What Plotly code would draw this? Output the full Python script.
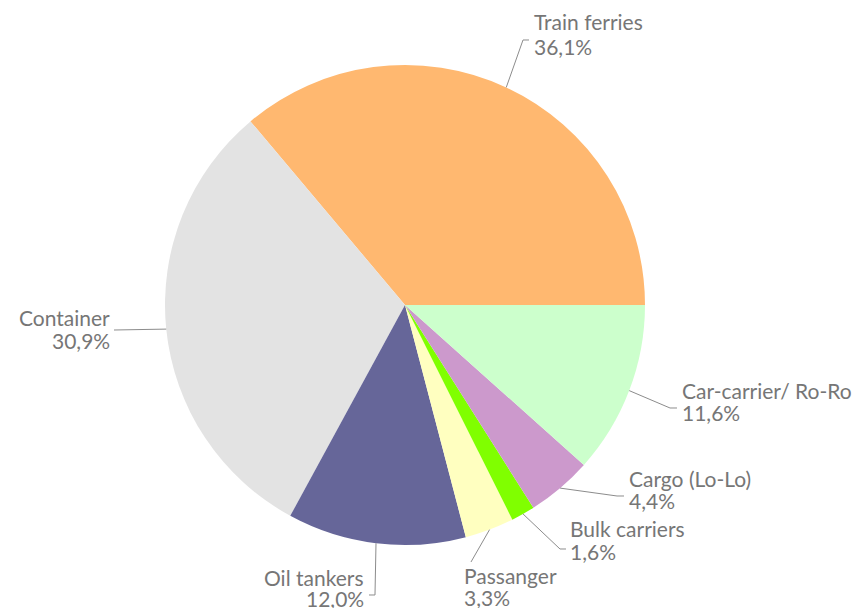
import math
import plotly.graph_objects as go

W, H = 862, 608

categories = ["Train ferries", "Container", "Oil tankers", "Passanger",
              "Bulk carriers", "Cargo (Lo-Lo)", "Car-carrier/ Ro-Ro"]
values = [36.1, 30.9, 12.0, 3.3, 1.6, 4.4, 11.6]
colors = ["#FFB870", "#E3E3E3", "#666699", "#FFFFC0", "#80FF00", "#CC99CC", "#CCFFCC"]

# layout of pie (pixels in the final screenshot)
CX, CY, R = 405, 305, 240
OFF = 8  # page body margin

# label layout: (text x, line1 y, line2 y, anchor, leader elbow points in px)
label_layout = {
    "Train ferries":      dict(x=533, y1=22,  y2=46,  anchor="left",  path=[(523, 40), (529, 40)]),
    "Container":          dict(x=111, y1=318, y2=340, anchor="right", path=[(114, 330)]),
    "Oil tankers":        dict(x=365, y1=577, y2=598, anchor="right", path=[(375, 595), (369, 595)]),
    "Passanger":          dict(x=463, y1=575, y2=597, anchor="left",  path=[(471, 562)]),
    "Bulk carriers":      dict(x=569, y1=528, y2=551, anchor="left",  path=[(560, 549), (566, 549)]),
    "Cargo (Lo-Lo)":      dict(x=628, y1=478, y2=500, anchor="left",  path=[(617, 496), (624, 496)]),
    "Car-carrier/ Ro-Ro": dict(x=681, y1=390, y2=413, anchor="left",  path=[(670, 408), (677, 408)]),
}

def px2paper(x, y):
    return (x - OFF) / W, 1 - (y - OFF) / H

x0, y0 = px2paper(CX - R, CY + R)
x1, y1 = px2paper(CX + R, CY - R)

first_angle = values[0] / sum(values) * 360
fig = go.Figure(go.Pie(
    labels=categories, values=values, sort=False,
    direction="counterclockwise", rotation=90 - first_angle,
    marker=dict(colors=colors, line=dict(width=0)),
    textinfo="none", hoverinfo="label+percent",
    domain=dict(x=[x0, x1], y=[y0, y1]),
    showlegend=False,
))

total = sum(values)
cum = 0.0
shapes, annotations = [], []
font = dict(family="Lato, Open Sans, sans-serif", size=21, color="#767676")
for cat, v in zip(categories, values):
    mid = (cum + v / 2) / total * 2 * math.pi
    cum += v
    sx = CX + R * math.cos(mid)
    sy = CY - R * math.sin(mid)
    lay = label_layout[cat]
    pts = [(sx, sy)] + lay["path"]
    d = "M " + " L ".join(f"{px2paper(px, py)[0]:.5f},{px2paper(px, py)[1]:.5f}" for px, py in pts)
    shapes.append(dict(type="path", path=d, xref="paper", yref="paper",
                       line=dict(color="#8C8C8C", width=1)))
    pct = f"{v:.1f}".replace(".", ",") + "%"
    for txt, yy in ((cat, lay["y1"]), (pct, lay["y2"])):
        tx, ty = px2paper(lay["x"], yy)
        annotations.append(dict(x=tx, y=ty, xref="paper", yref="paper",
                                text=txt, showarrow=False, borderpad=0,
                                xanchor=lay["anchor"], yanchor="middle",
                                align=lay["anchor"], font=font))

fig.update_layout(
    width=W, height=H, margin=dict(l=0, r=0, t=0, b=0),
    paper_bgcolor="white", plot_bgcolor="white",
    shapes=shapes, annotations=annotations,
)
fig.write_html("out.html")
